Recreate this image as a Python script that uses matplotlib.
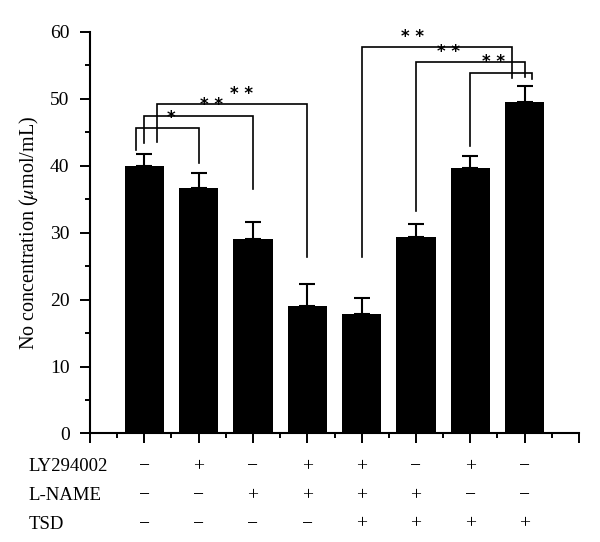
import matplotlib
matplotlib.use('Agg')
import matplotlib.pyplot as plt
import matplotlib.transforms as mtransforms
import numpy as np

# values
means = [39.9, 36.7, 29.0, 19.0, 17.8, 29.3, 39.6, 49.5]
errors = [1.8, 2.3, 2.6, 3.3, 2.5, 2.0, 1.9, 2.5]
row_names = ['LY294002', 'L-NAME', 'TSD']
ly294002 = ['−', '+', '−', '+', '+', '−', '+', '−']
l_name = ['−', '−', '+', '+', '+', '+', '−', '−']
tsd = ['−', '−', '−', '−', '+', '+', '+', '+']

# significance brackets: x left, y left end, x right, y right end, top, label, label x
brackets = [
    (-0.15, 42.3, 1.0, 40.4, 45.6, '*', 0.5),
    (0.0, 43.4, 2.0, 36.6, 47.5, '* *', 1.23),
    (0.23, 43.5, 3.0, 26.3, 49.25, '* *', 1.79),
    (4.0, 26.3, 6.77, 53.1, 57.7, '* *', 4.94),
    (5.0, 33.3, 7.0, 53.2, 55.5, '* *', 5.6),
    (6.0, 43.0, 7.14, 52.9, 53.9, '* *', 6.43),
]

plt.rcParams['font.family'] = ['Liberation Serif', 'DejaVu Serif']
plt.rcParams['mathtext.fontset'] = 'stix'

fig = plt.figure(figsize=(6, 5.42), dpi=100)
ax = fig.add_axes([0.15, 0.2002, 0.815, 0.7408])

x = np.arange(len(means))
ax.bar(x, means, width=0.72, color='black', zorder=2)
ax.errorbar(x, means, yerr=[np.zeros(len(errors)), errors], fmt='none',
            ecolor='black', elinewidth=1.5, capsize=6, capthick=1.5, zorder=1)

for xl, yl, xr, yr, top, lab, lx in brackets:
    ax.plot([xl, xl, xr, xr], [yl, top, top, yr], color='black', lw=1.2,
            solid_joinstyle='miter', clip_on=False)
    ax.text(lx, top + 0.2, lab, ha='center', va='bottom', fontsize=12,
            fontweight='bold', family='DejaVu Sans')

ax.set_xlim(-1, 8)
ax.set_ylim(0, 60)
ax.set_yticks(range(0, 61, 10))
ax.set_yticks(range(5, 60, 10), minor=True)
ax.set_xticks(range(-1, 9))
ax.set_xticks(np.arange(-0.5, 8, 1), minor=True)
ax.set_xticklabels([])
ax.tick_params(which='major', length=7.2, width=1.4, direction='out', labelsize=14, pad=7.5)
ax.tick_params(which='minor', length=3.6, width=1.4, direction='out')
ax.spines['top'].set_visible(False)
ax.spines['right'].set_visible(False)
ax.spines['left'].set_linewidth(1.5)
ax.spines['bottom'].set_linewidth(1.5)
ax.set_ylabel('No concentration ($\\mu$mol/mL)', fontsize=14.5)
ax.yaxis.set_label_coords(-0.1, 0.5)

trans = mtransforms.blended_transform_factory(ax.transData, fig.transFigure)
row_y = [0.1384, 0.0849, 0.0332]
for name, signs, ry in zip(row_names, [ly294002, l_name, tsd], row_y):
    fig.text(0.048, ry, name, ha='left', va='center', fontsize=13.5)
    for xi, s in zip(x, signs):
        ax.text(xi, ry, s, transform=trans, ha='center', va='center', fontsize=14)

fig.savefig('out.png', dpi=100)
